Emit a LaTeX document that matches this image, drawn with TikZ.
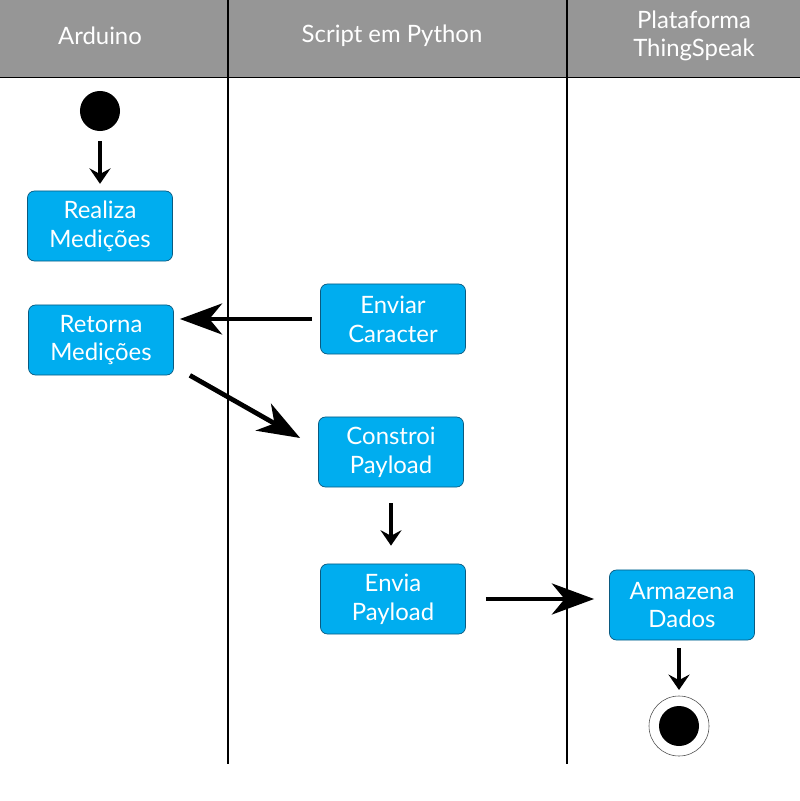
\documentclass[tikz,border=0pt]{standalone}
\usepackage{fontspec}
\setmainfont{Lato}
\usepackage{tikz}
\usetikzlibrary{arrows.meta, positioning}

\definecolor{lanegray}{HTML}{969696}
\definecolor{actblue}{HTML}{00ADEF}
\definecolor{actborder}{HTML}{0A5A80}

\tikzset{
    lanehead/.style = {text = white, font = \fontsize{17}{19.5}\selectfont, align = center},
    activity/.style = {draw = actborder, fill = actblue, rounded corners = 5pt, line width = 0.5pt,
        minimum width = 3.625cm, minimum height = 1.75cm, text = white,
        font = \fontsize{17}{20.5}\selectfont, align = center},
    flow/.style = {line width = 3.4pt, -{Stealth[length = 30pt, width = 22pt, inset = 9pt]}},
    smallflow/.style = {line width = 2.8pt, -{Stealth[length = 11pt, width = 15pt, inset = 4pt]}},
}

\begin{document}
\begin{tikzpicture}[x = 0.025cm, y = -0.025cm]
    \useasboundingbox (0, 0) rectangle (800, 801);
    % swimlanes
    \fill[lanegray] (0, 0) rectangle (800, 77);
    \draw[line width = 0.4pt] (0, 77) -- (800, 77);
    \draw[line width = 0.8pt] (228, 0) -- (228, 764)
        (567, 0) -- (567, 764);
    \node[lanehead] (arduino) at (100, 36) {Arduino};
    \node[lanehead] (script) at (392, 36) {Script em Python};
    \node[lanehead] (thing) at (694, 36) {Plataforma\\ThingSpeak};

    % start / end
    \node[circle, fill = black, minimum size = 1cm, inner sep = 0pt] (start) at (100, 111) {};
    \node[circle, draw = black!70, line width = 0.4pt, fill = white, minimum size = 1.5cm, inner sep = 0pt] (stopring) at (679, 726) {};
    \node[circle, fill = black, minimum size = 1cm, inner sep = 0pt] (stop) at (679, 726) {};

    % activities
    \node[activity] (realiza) at (100, 226) {Realiza\\Medições};
    \node[activity] (retorna) at (101, 340) {Retorna\\Medições};
    \node[activity] (enviar) at (393, 319) {Enviar\\Caracter};
    \node[activity] (constroi) at (391, 452) {Constroi\\Payload};
    \node[activity] (envia) at (393, 599) {Envia\\Payload};
    \node[activity] (armazena) at (682, 605) {Armazena\\Dados};

    % transitions
    \draw[smallflow] ([yshift = -0.75cm] start.center) -- ([yshift = 0.17cm] realiza.north);
    \draw[flow] ([xshift = -0.2cm] enviar.west) -- ([xshift = 0.15cm] enviar.west -| retorna.east);
    \draw[flow] ([xshift = 0.4cm] retorna.south east) -- ([xshift = -0.45cm, yshift = 0.35cm] constroi.west);
    \draw[smallflow] ([yshift = -0.4cm] constroi.south) -- ([yshift = 0.45cm] constroi.south |- envia.north);
    \draw[flow] ([xshift = 0.5cm] envia.east) -- ([xshift = -0.375cm] envia.east -| armazena.west);
    \draw[smallflow] ([yshift = -0.2cm] stop.north |- armazena.south) -- ([yshift = 0.9cm] stop.center);
\end{tikzpicture}
\end{document}
